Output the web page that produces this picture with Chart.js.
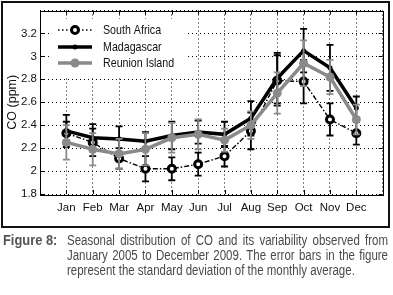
<!DOCTYPE html>
<html><head><meta charset="utf-8">
<script src="https://cdn.jsdelivr.net/npm/chart.js@4/dist/chart.umd.min.js"></script>
<style>
html,body{margin:0;padding:0;background:#fff;width:393px;height:295px;overflow:hidden;}
#frame{position:absolute;left:1px;top:1px;width:385px;height:223px;border:2px solid #111;}
#wrap{position:absolute;left:0;top:0;width:393px;height:228px;}
#cap{position:absolute;left:0;top:0;width:393px;height:295px;font-family:"Liberation Sans",Arial,sans-serif;font-size:14px;color:#4a4a4a;line-height:15px;}
#lab{position:absolute;left:3px;top:233px;font-weight:bold;color:#555;transform-origin:0 0;transform:scaleX(0.92);white-space:nowrap;}
.ln{position:absolute;left:67px;white-space:nowrap;transform-origin:0 0;transform:scaleX(0.82);}
</style></head>
<body>
<div id="frame"></div>
<div id="wrap"><canvas id="c"></canvas></div>
<div id="cap">
<div id="lab">Figure 8:</div>
<span class="ln just" style="top:233px">Seasonal distribution of CO and its variability observed from</span>
<span class="ln just" style="top:247.75px">January 2005 to December 2009. The error bars in the figure</span>
<span class="ln" style="top:262.5px">represent the standard deviation of the monthly average.</span>
</div>
<script>
const months = ['Jan','Feb','Mar','Apr','May','Jun','Jul','Aug','Sep','Oct','Nov','Dec'];
const seriesNames = ['South Africa','Madagascar','Reunion Island'];
const southAfrica   = [2.33, 2.25, 2.11, 2.02, 2.02, 2.06, 2.13, 2.35, 2.79, 2.78, 2.45, 2.33];
const southAfricaSd = [0.10, 0.12, 0.09, 0.11, 0.10, 0.10, 0.09, 0.16, 0.22, 0.19, 0.14, 0.10];
const madagascar    = [2.35, 2.29, 2.28, 2.26, 2.31, 2.34, 2.32, 2.46, 2.81, 3.05, 2.90, 2.55];
const madagascarSd  = [0.14, 0.12, 0.11, 0.08, 0.12, 0.10, 0.11, 0.15, 0.22, 0.19, 0.20, 0.10];
const reunion       = [2.25, 2.19, 2.15, 2.19, 2.29, 2.32, 2.27, 2.40, 2.68, 2.94, 2.82, 2.45];
const reunionSd     = [0.15, 0.14, 0.13, 0.14, 0.13, 0.13, 0.10, 0.12, 0.18, 0.20, 0.15, 0.13];
const yTicks = [1.8, 2, 2.2, 2.4, 2.6, 2.8, 3, 3.2];

// justify caption lines to 321px visual width
document.querySelectorAll('.just').forEach(el=>{
  const w = el.getBoundingClientRect().width / 0.82;
  const n = (el.textContent.match(/ /g)||[]).length;
  el.style.wordSpacing = ((321/0.82 - w)/n) + 'px';
});

const FONT = '"Liberation Sans",Arial,sans-serif';
const GRAY = '#8a8a8a';
const pts = arr => arr.map((v,i)=>({x:i+1,y:v}));

const errPlugin = {
  id:'err',
  beforeDatasetDraw(chart,args){
    const ds = chart.data.datasets[args.index];
    const sd = ds.sd; if(!sd) return;
    const ctx = chart.ctx, xs = chart.scales.x, ys = chart.scales.y;
    ctx.save(); ctx.strokeStyle = ds.errColor; ctx.lineWidth = 1.8; ctx.setLineDash([]);
    ds.data.forEach((p,i)=>{
      const x = xs.getPixelForValue(p.x);
      const y1 = ys.getPixelForValue(p.y+sd[i]);
      const y2 = ys.getPixelForValue(p.y-sd[i]);
      ctx.beginPath();
      ctx.moveTo(x,y1); ctx.lineTo(x,y2);
      ctx.moveTo(x-3.5,y1); ctx.lineTo(x+3.5,y1);
      ctx.moveTo(x-3.5,y2); ctx.lineTo(x+3.5,y2);
      ctx.stroke();
    });
    ctx.restore();
  }
};

const framePlugin = {
  id:'frameDeco',
  afterDatasetsDraw(chart){
    const ctx = chart.ctx, a = chart.chartArea, xs = chart.scales.x, ys = chart.scales.y;
    ctx.save();
    ctx.strokeStyle = '#000'; ctx.lineWidth = 1; ctx.setLineDash([]);
    ctx.strokeRect(Math.round(a.left)+0.5, Math.round(a.top)+0.5, Math.round(a.right-a.left), Math.round(a.bottom-a.top));
    ctx.beginPath();
    xs.ticks.forEach(t=>{
      if (t.value<1 || t.value>12) return;
      const x = Math.round(xs.getPixelForValue(t.value))+0.5;
      ctx.moveTo(x,a.bottom); ctx.lineTo(x,a.bottom-4);
      ctx.moveTo(x,a.top); ctx.lineTo(x,a.top+4);
    });
    yTicks.forEach(v=>{
      const y = Math.round(ys.getPixelForValue(v))+0.5;
      ctx.moveTo(a.left,y); ctx.lineTo(a.left+4,y);
      ctx.moveTo(a.right,y); ctx.lineTo(a.right-4,y);
    });
    ctx.stroke();
    // legend
    ctx.fillStyle = '#fff'; ctx.fillRect(50,19,135,57);
    const rows = [30,47,63];
    ctx.textBaseline = 'middle'; ctx.textAlign='left';
    chart.data.datasets.forEach((ds,i)=>{
      const y = rows[i];
      ctx.save();
      ctx.strokeStyle = ds.borderColor; ctx.lineWidth = i===0?1.6:3.5;
      ctx.setLineDash(i===0?[1.5,2.5]:[]);
      ctx.beginPath(); ctx.moveTo(58,y); ctx.lineTo(92,y); ctx.stroke();
      ctx.setLineDash([]);
      ctx.beginPath(); ctx.arc(75,y,ds.pointRadius,0,Math.PI*2);
      ctx.fillStyle = ds.pointBackgroundColor; ctx.fill();
      if (ds.pointBorderWidth>0){ ctx.lineWidth = ds.pointBorderWidth; ctx.strokeStyle = ds.pointBorderColor; ctx.stroke(); }
      ctx.restore();
      ctx.save();
      ctx.translate(103,y+0.5); ctx.scale(0.82,1);
      ctx.font = '13px '+FONT; ctx.fillStyle = '#111';
      ctx.fillText(seriesNames[i],0,0);
      ctx.restore();
    });
    ctx.restore();
  }
};

new Chart(document.getElementById('c'), {
  type:'line',
  data:{datasets:[
    {label:seriesNames[0], data:pts(southAfrica), sd:southAfricaSd, errColor:'#000', order:3,
     borderColor:'#000', borderWidth:1.4, borderDash:[5,2,1.5,2],
     pointRadius:3.5, pointBorderWidth:3, pointBackgroundColor:'#fff', pointBorderColor:'#000'},
    {label:seriesNames[1], data:pts(madagascar), sd:madagascarSd, errColor:'#000', order:2,
     borderColor:'#000', borderWidth:3.5,
     pointRadius:2.5, pointBorderWidth:0, pointBackgroundColor:'#000', pointBorderColor:'#000'},
    {label:seriesNames[2], data:pts(reunion), sd:reunionSd, errColor:GRAY, order:1,
     borderColor:GRAY, borderWidth:3.5,
     pointRadius:4.5, pointBorderWidth:0, pointBackgroundColor:GRAY, pointBorderColor:GRAY}
  ]},
  options:{
    responsive:true, maintainAspectRatio:false, animation:false,
    layout:{padding:{top:10.5,right:10.3,left:0,bottom:0}},
    plugins:{legend:{display:false}, tooltip:{enabled:false}},
    elements:{line:{tension:0}},
    scales:{
      x:{type:'linear', min:0, max:13,
         afterFit:s=>{s.height=34;},
         border:{display:false, dash:[1,3]},
         grid:{color:'#000', lineWidth:1, drawTicks:false},
         ticks:{stepSize:1, autoSkip:false, maxRotation:0, padding:7, color:'#111',
                font:{family:FONT,size:11.5},
                callback:v=> months[v-1] || ''}},
      y:{min:1.8, max:3.4,
         afterFit:s=>{s.width=40;},
         border:{display:false, dash:[1,3]},
         grid:{color:'#000', lineWidth:1, drawTicks:false},
         ticks:{stepSize:0.2, padding:3, color:'#111', font:{family:FONT,size:11.5},
                callback:v=> yTicks.some(t=>Math.abs(t-v)<1e-6) ? String(+v.toFixed(1)) : ''},
         title:{display:true, text:'CO (ppm)', color:'#111', font:{family:FONT,size:12.5}, padding:{top:5,bottom:0}}}
    }
  },
  plugins:[errPlugin, framePlugin]
});
</script>
</body></html>
